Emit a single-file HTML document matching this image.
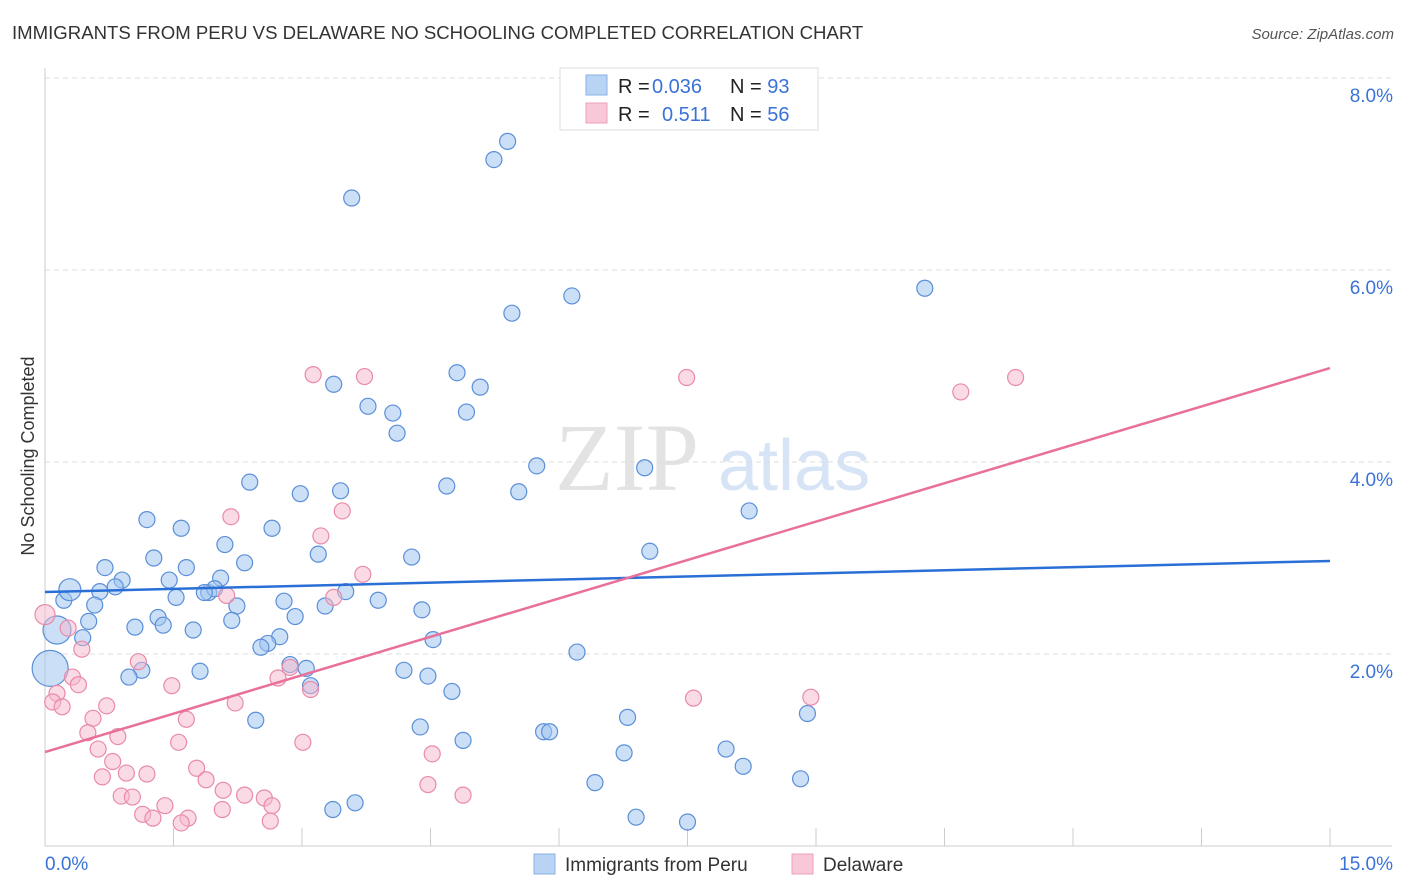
<!DOCTYPE html>
<html><head><meta charset="utf-8"><style>
body{margin:0;background:#fff;font-family:"Liberation Sans",sans-serif;}
svg{display:block}
</style></head><body>
<svg id="chart" width="1406" height="892">
<text x="12" y="39" font-size="18.6" fill="#333">IMMIGRANTS FROM PERU VS DELAWARE NO SCHOOLING COMPLETED CORRELATION CHART</text>
<text x="1394" y="39" font-size="15" font-style="italic" fill="#555" text-anchor="end">Source: ZipAtlas.com</text>
<g><text x="555" y="490" font-family="Liberation Serif" font-size="96" fill="#e3e3e3">ZIP</text><text x="718" y="490" font-size="72" fill="#d6e4f6">atlas</text></g>
<g id="grid"></g><g id="marks"></g><g id="lines"></g>
<text transform="translate(34,456) rotate(-90)" font-size="18" fill="#333" text-anchor="middle">No Schooling Completed</text>
<g>
<rect x="560" y="68" width="258" height="62" fill="#fff" stroke="#ddd"/>
<rect x="586" y="75" width="21" height="20" fill="#b8d3f4" stroke="#8ab0e6"/>
<rect x="586" y="103" width="21" height="20" fill="#f8c8d8" stroke="#eea0ba"/>
<text x="618" y="93" font-size="20" fill="#222">R = <tspan x="652" fill="#3a72d8">0.036</tspan><tspan x="730">N = </tspan><tspan fill="#3a72d8">93</tspan></text>
<text x="618" y="121" font-size="20" fill="#222">R = <tspan x="662" fill="#3a72d8">0.511</tspan><tspan x="730">N = </tspan><tspan fill="#3a72d8">56</tspan></text>
</g>
<g>
<rect x="534" y="854" width="21" height="20" fill="#b8d3f4" stroke="#8ab0e6"/>
<text x="565" y="871" font-size="19" fill="#333">Immigrants from Peru</text>
<rect x="792" y="854" width="21" height="20" fill="#f8c8d8" stroke="#eea0ba"/>
<text x="823" y="871" font-size="19" fill="#333">Delaware</text>
</g>
</svg>
<script>
const yTicks=[2,4,6,8];
const xTickLabels=["0.0%","15.0%"];
const peruX=[5.40,5.24,3.58,6.15,10.27,5.45,3.37,4.81,5.08,3.77,4.06,4.92,4.11,5.74,7.00,2.39,4.69,2.98,3.45,5.53,8.22,1.19,1.59,2.65,2.10,7.06,1.27,3.19,4.28,2.33,0.70,1.65,0.90,1.45,2.05,0.64,0.82,1.91,1.98,1.53,1.86,3.51,2.79,3.89,0.58,0.22,2.24,3.27,4.40,1.32,2.92,0.51,2.18,1.38,1.05,1.73,0.44,2.74,2.60,2.52,4.53,6.21,2.86,3.05,1.81,1.13,0.98,4.19,4.47,3.10,4.75,2.46,4.38,6.80,8.90,4.88,5.82,5.89,7.95,6.76,8.15,8.82,6.42,3.62,3.36,6.90,7.50,0.06,0.14,0.29];
const peruY=[7.34,7.15,6.75,5.73,5.81,5.55,4.81,4.93,4.78,4.58,4.51,4.52,4.30,3.96,3.94,3.79,3.75,3.67,3.70,3.69,3.49,3.40,3.31,3.31,3.14,3.07,3.00,3.04,3.01,2.95,2.90,2.90,2.77,2.77,2.79,2.65,2.70,2.64,2.68,2.59,2.64,2.65,2.55,2.56,2.51,2.56,2.50,2.50,2.46,2.38,2.39,2.34,2.35,2.30,2.28,2.25,2.17,2.18,2.11,2.07,2.15,2.02,1.89,1.85,1.82,1.83,1.76,1.83,1.77,1.67,1.61,1.31,1.24,1.34,1.38,1.10,1.19,1.19,1.01,0.97,0.83,0.70,0.66,0.45,0.38,0.30,0.25,1.85,2.25,2.67];
const peruR=peruX.map((v,i)=>i==peruX.length-3?18:i==peruX.length-2?14:i==peruX.length-1?11:8);
const delX=[3.13,3.73,7.49,10.69,11.33,2.17,3.47,3.22,3.71,2.12,3.37,0.0,0.27,0.43,1.09,0.32,0.39,0.14,0.09,0.20,1.48,2.86,2.72,3.10,0.72,2.22,7.57,8.94,0.56,1.65,0.50,0.85,1.56,3.01,4.52,0.62,0.79,1.77,0.67,0.95,1.19,1.88,2.08,2.33,2.56,0.89,1.02,1.40,1.14,1.26,4.47,4.88,2.65,2.07,1.67,1.59,2.63];
const delY=[4.91,4.89,4.88,4.73,4.88,3.43,3.49,3.23,2.83,2.61,2.59,2.41,2.27,2.05,1.92,1.76,1.68,1.59,1.50,1.45,1.67,1.86,1.75,1.63,1.46,1.49,1.54,1.55,1.33,1.32,1.18,1.14,1.08,1.08,0.96,1.01,0.88,0.81,0.72,0.76,0.75,0.69,0.58,0.53,0.50,0.52,0.51,0.42,0.33,0.29,0.64,0.53,0.42,0.38,0.29,0.24,0.26];
const peruTrend=[2.646,2.969];
const delTrend=[0.979,4.979];
const NS="http://www.w3.org/2000/svg";
const X=v=>45+v*(1285/15), Y=v=>846-v*96;
function mk(t,a,p){const e=document.createElementNS(NS,t);for(const k in a)e.setAttribute(k,a[k]);document.getElementById(p).appendChild(e);return e;}
yTicks.forEach(t=>{
 const l=mk('line',{x1:45,x2:1392,y1:Y(t),y2:Y(t),stroke:'#ddd','stroke-dasharray':'5,4'},'grid');
 
 
 const s=mk('text',{x:1393,y:Y(t)+24,'font-size':19,fill:'#3a72d8','text-anchor':'end'},'grid');s.textContent=t.toFixed(1)+'%';
 
 
});
const ax=mk('line',{x1:45,x2:45,y1:68,y2:846,stroke:'#ccc'},'grid');


const bx=mk('line',{x1:45,x2:1392,y1:846,y2:846,stroke:'#ccc'},'grid');


for(let i=1;i<=10;i++){const t=mk('line',{x1:X(i*1.5),x2:X(i*1.5),y1:828,y2:846,stroke:'#ccc'},'grid');
 
 }
[[0,'start'],[15,'end']].forEach((d,i)=>{const s=mk('text',{x:i?1393:45,y:870,'font-size':19,fill:'#3a72d8','text-anchor':d[1]},'grid');s.textContent=xTickLabels[i];
 
 });
peruX.forEach((v,i)=>{const c=mk('circle',{cx:X(v),cy:Y(peruY[i]),r:peruR[i],fill:'rgba(160,196,240,0.55)',stroke:'#5b8fd8','stroke-width':1.2},'marks');
 
 });
delX.forEach((v,i)=>{const c=mk('circle',{cx:X(v),cy:Y(delY[i]),r:i==11?10:8,fill:'rgba(246,184,204,0.5)',stroke:'#e98aa9','stroke-width':1.2},'marks');
 
 });
const pl=mk('line',{x1:X(0),x2:X(15),y1:Y(peruTrend[0]),y2:Y(peruTrend[1]),stroke:'#2a6fd6','stroke-width':2.5},'lines');


const dl=mk('line',{x1:X(0),x2:X(15),y1:Y(delTrend[0]),y2:Y(delTrend[1]),stroke:'#e8709a','stroke-width':2.5},'lines');


</script>
</body></html>
